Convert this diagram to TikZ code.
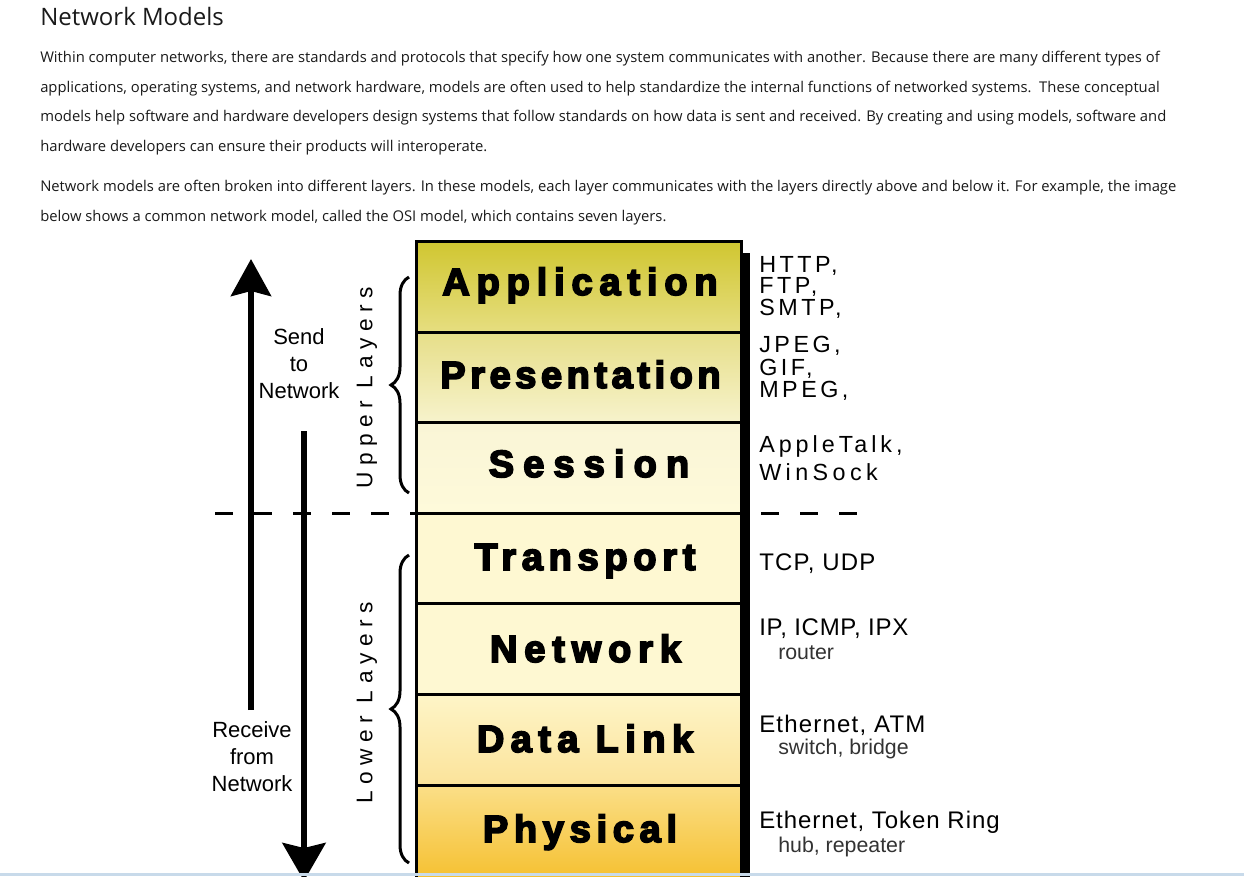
\documentclass[tikz,border=0pt]{standalone}
\usepackage{fontspec}
\setmainfont{Open Sans}
\newfontfamily\labfont{Liberation Sans}
\newfontfamily\layfont{Liberation Sans}[BoldFeatures={FakeBold=4.5}]
\usetikzlibrary{arrows.meta,decorations.pathreplacing}
\definecolor{txt}{HTML}{1A1A1A}
\definecolor{appA}{HTML}{D0C630}
\definecolor{appB}{HTML}{E6DE80}
\definecolor{presA}{HTML}{E6DE88}
\definecolor{presB}{HTML}{F7F3CC}
\definecolor{sessA}{HTML}{F9F5D6}
\definecolor{sessB}{HTML}{FEFADA}
\definecolor{lowA}{HTML}{FEF8D2}
\definecolor{dlA}{HTML}{FEF5C8}
\definecolor{dlB}{HTML}{FBE39A}
\definecolor{phA}{HTML}{FBDF88}
\definecolor{phB}{HTML}{F5C030}
\definecolor{webline}{HTML}{C8DAEA}
\begin{document}
\begin{tikzpicture}[x=0.75pt,y=-0.75pt,
  body/.style={anchor=base west, inner sep=0pt, font=\fontsize{11.1}{12}\selectfont, text=txt},
  title/.style={anchor=base west, inner sep=0pt, font=\fontsize{18}{20}\selectfont, text=txt},
  osilayer/.style={draw=black, line width=2.25pt, minimum width=243.75pt, inner sep=0pt, outer sep=0pt},
  laytext/.style={anchor=base, inner sep=0pt, font=\layfont\bfseries\fontsize{28.5}{30}\selectfont},
  proto/.style={anchor=base west, inner sep=0pt, font=\labfont\fontsize{18}{20}\selectfont},
  protoup/.style={anchor=base west, inner sep=0pt, font=\labfont\fontsize{17.5}{20}\selectfont},
  dev/.style={anchor=base west, inner sep=0pt, font=\labfont\fontsize{16}{18}\selectfont, text=black!80},
  side/.style={anchor=base, inner sep=0pt, font=\labfont\fontsize{16.5}{20}\selectfont},
  bracetext/.style={rotate=90, inner sep=0pt, font=\labfont\fontsize{17}{20}\selectfont},
  bigarrow/.style={line width=4.5pt},
  bracedeco/.style={line width=2.25pt, decorate, decoration={brace, amplitude=13.5pt}}
]
\useasboundingbox (0,0) rectangle (1244,876);
\clip (0,0) rectangle (1244,876);
\fill[white] (0,0) rectangle (1244,876);

% text
\node[title] (ttl) at (40,25) {Network Models};
\node[body] (p1) at (40,62) {Within computer networks, there are standards and protocols that specify how one system communicates with another. Because there are many different types of};
\node[body] (p2) at (40,92) {applications, operating systems, and network hardware, models are often used to help standardize the internal functions of networked systems.\ \ These conceptual};
\node[body] (p3) at (40,121) {models help software and hardware developers design systems that follow standards on how data is sent and received. By creating and using models, software and};
\node[body] (p4) at (40,151) {hardware developers can ensure their products will interoperate.};
\node[body] (q1) at (40,191) {Network models are often broken into different layers. In these models, each layer communicates with the layers directly above and below it. For example, the image};
\node[body] (q2) at (40,221) {below shows a common network model, called the OSI model, which contains seven layers.};

% dashed separator
\coordinate (dashL) at (215,513);
\coordinate (dashR) at (862,513);
\draw[line width=2.25pt, dash pattern=on 13.5pt off 15.75pt] (dashL) -- (dashR);

% layers
\node[osilayer, minimum height=68.25pt, top color=appA, bottom color=appB] (app) at (578.5,286.5) {};
\node[osilayer, minimum height=67.5pt, top color=presA, bottom color=presB] (pres) at (578.5,377) {};
\node[osilayer, minimum height=68.25pt, top color=sessA, bottom color=sessB] (sess) at (578.5,467.5) {};
\node[osilayer, minimum height=67.5pt, fill=lowA] (trans) at (578.5,558) {};
\node[osilayer, minimum height=68.25pt, fill=lowA] (net) at (578.5,648.5) {};
\node[osilayer, minimum height=68.25pt, top color=dlA, bottom color=dlB] (dl) at (578.5,739.5) {};
\node[osilayer, minimum height=71.25pt, top color=phA, bottom color=phB] (phys) at (578.5,832.5) {};
\fill[black] (740,253) rectangle (750,880);

\node[laytext] (tApp) at (580,295) {\addfontfeatures{LetterSpace=18}Application};
\node[laytext] (tPres) at (580.5,388) {\addfontfeatures{LetterSpace=12}Presentation};
\node[laytext] (tSess) at (589,477) {\addfontfeatures{LetterSpace=24}Session};
\node[laytext] (tTrans) at (585,570) {\addfontfeatures{LetterSpace=15}Transport};
\node[laytext] (tNet) at (585.5,662) {\addfontfeatures{LetterSpace=18}Network};
\node[laytext] (tDl) at (585,752) {\addfontfeatures{LetterSpace=17}Data Link};
\node[laytext] (tPhys) at (580,842) {\addfontfeatures{LetterSpace=15}Physical};

% protocol labels
\node[protoup] (r1) at (759,272) {\addfontfeatures{LetterSpace=15}HTTP,};
\node[protoup] (r2) at (759,293.5) {\addfontfeatures{LetterSpace=15}FTP,};
\node[protoup] (r3) at (759,315) {\addfontfeatures{LetterSpace=15}SMTP,};
\node[protoup] (r4) at (759,352) {\addfontfeatures{LetterSpace=15}JPEG,};
\node[protoup] (r5) at (759,375) {\addfontfeatures{LetterSpace=15}GIF,};
\node[protoup] (r6) at (759,397.5) {\addfontfeatures{LetterSpace=15}MPEG,};
\node[protoup] (r7) at (759,452) {\addfontfeatures{LetterSpace=17}AppleTalk,};
\node[protoup] (r8) at (759,480) {\addfontfeatures{LetterSpace=19}WinSock};
\node[proto] (r9) at (759,570) {\addfontfeatures{LetterSpace=5}TCP, UDP};
\node[proto] (r10) at (759,635) {\addfontfeatures{LetterSpace=3}IP, ICMP, IPX};
\node[dev] (d1) at (778,659) {router};
\node[proto] (r11) at (759,732) {\addfontfeatures{LetterSpace=5}Ethernet, ATM};
\node[dev] (d2) at (778,754) {switch, bridge};
\node[proto] (r12) at (759,828) {\addfontfeatures{LetterSpace=4}Ethernet, Token Ring};
\node[dev] (d3) at (778,852) {hub, repeater};

% arrows
\coordinate (upA) at (251,710);
\coordinate (upB) at (251,259);
\draw[bigarrow, -{Stealth[length=27.75pt,width=30pt,inset=3.75pt]}] (upA) -- (upB);
\coordinate (dnA) at (304,431);
\coordinate (dnB) at (304,881);
\draw[bigarrow, -{Stealth[length=28.5pt,width=32.25pt,inset=3.75pt]}] (dnA) -- (dnB);

\node[side] (s1) at (299,344) {Send};
\node[side] (s2) at (299,371) {to};
\node[side] (s3) at (299,398) {Network};
\node[side] (v1) at (252,737) {Receive};
\node[side] (v2) at (252,764) {from};
\node[side] (v3) at (252,791) {Network};

% braces
\coordinate (ubA) at (409,493);
\coordinate (ubB) at (409,277);
\draw[bracedeco] (ubA) -- (ubB);
\coordinate (lbA) at (409,863);
\coordinate (lbB) at (409,555);
\draw[bracedeco] (lbA) -- (lbB);
\node[bracetext] (ul) at (367,388) {\addfontfeatures{LetterSpace=29}Upper Layers};
\node[bracetext] (ll) at (367,703) {\addfontfeatures{LetterSpace=29}Lower Layers};

% page edge line
\fill[webline] (0,873) rectangle (1244,876);
\end{tikzpicture}
\end{document}
